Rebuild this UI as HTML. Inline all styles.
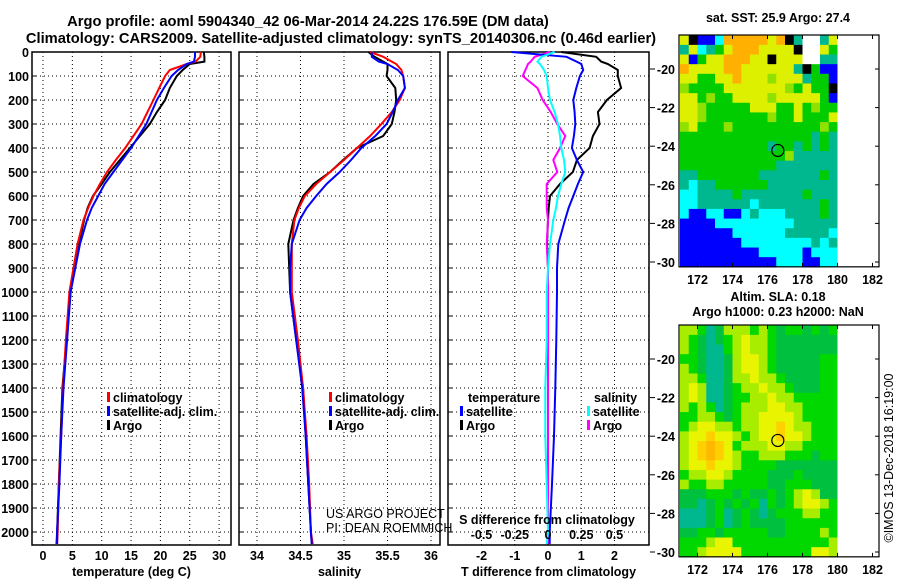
<!DOCTYPE html>
<html><head><meta charset="utf-8"><style>
html,body{margin:0;padding:0;background:#fff;width:900px;height:580px;overflow:hidden}
svg{display:block;font-family:"Liberation Sans",sans-serif}
.b{font-weight:bold;font-size:14.7px}
.t{font-weight:bold;font-size:12.5px}
</style></head><body>
<svg id="fig" width="900" height="580" viewBox="0 0 900 580">
<text class="b" x="308" y="26" text-anchor="middle">Argo profile: aoml 5904340_42 06-Mar-2014 24.22S 176.59E (DM data)</text>
<text class="b" x="341" y="43" text-anchor="middle">Climatology: CARS2009. Satellite-adjusted climatology: synTS_20140306.nc (0.46d earlier)</text>
<g id="g"></g>
</svg>
<script>
// depths (m)
const tDep=[0,20,40,50,75,100,150,200,250,300,350,400,450,500,550,600,650,700,800,900,1000,1200,1400,1600,1800,2000,2050];
const tempArgo=[27.4,27.5,27.5,25,23.8,22.8,21.6,20.8,19.4,18.2,16.5,14.8,13.1,11.4,10,8.5,7.6,7,6.1,5.4,4.7,4,3.3,3,2.7,2.4,2.3];
const tempClim=[26.9,26.8,26,24.5,21.6,20.8,19.8,18.8,17.8,16.8,15.4,14,12.4,10.9,9.7,8.6,7.7,6.9,5.9,5.2,4.5,3.9,3.4,3.1,2.7,2.5,2.4];
const tempSat=[25.9,25.9,25.7,24.5,23,21.9,20.6,19.4,18.5,17.6,16.3,15,13.5,12,10.5,9.4,8.3,7.5,6.3,5.5,4.7,4.1,3.5,3.1,2.8,2.4,2.4];
const salArgo=[35.28,35.35,35.45,35.5,35.5,35.49,35.59,35.6,35.58,35.55,35.45,35.15,34.99,34.84,34.65,34.53,34.47,34.42,34.36,34.37,34.38,34.45,34.53,34.56,34.59,34.62,34.63];
const salClim=[35.3,35.45,35.55,35.6,35.66,35.68,35.7,35.64,35.55,35.43,35.3,35.15,35.0,34.84,34.68,34.55,34.48,34.43,34.4,34.4,34.4,34.47,34.53,34.57,34.6,34.62,34.64];
const salSat=[35.32,35.32,35.4,35.5,35.62,35.68,35.7,35.62,35.56,35.49,35.36,35.2,35.08,34.95,34.8,34.68,34.57,34.49,34.4,34.38,34.38,34.45,34.52,34.56,34.59,34.62,34.63];
const dTArgo=[0.4,1.45,1.6,1.8,2.1,2.1,2.2,1.77,1.5,1.55,1.35,1.25,0.87,0.75,0.36,0.06,0.02,0,-0.03,0,0,0,0,0,0,0,0];
const dTSat=[-1.1,0.56,0.86,1.0,1.06,0.96,0.85,0.76,0.8,0.82,0.78,0.72,0.87,1.06,0.9,0.76,0.62,0.51,0.31,0.27,0.27,0.25,0.22,0.18,0.12,0.05,0.05];
const dSArgo=[0.015,-0.1,-0.13,-0.15,-0.17,-0.19,-0.08,-0.04,0.02,0.07,0.13,0.09,0.04,0.07,-0.01,-0.01,-0.01,0,-0.01,0,0,0,0,0,0,0,0];
const dSSat=[0.05,-0.05,-0.08,-0.06,-0.03,-0.01,0.0,0.015,0.05,0.075,0.09,0.1,0.12,0.13,0.1,0.075,0.06,0.04,0.015,0,-0.01,-0.01,-0.02,-0.02,-0.01,0,-0.01];
const depthTicks=[0,100,200,300,400,500,600,700,800,900,1000,1100,1200,1300,1400,1500,1600,1700,1800,1900,2000];
const tTicks=[0,5,10,15,20,25,30];
const sTicks=[34,34.5,35,35.5,36];
const dTTicks=[-2,-1,0,1,2];
const dSTicks=[-0.5,-0.25,0,0.25,0.5];
const lonTicks=[172,174,176,178,180,182];
const latTicks=[-20,-22,-24,-26,-28,-30];
// SST map codes, rows from -18.25 (0.5 deg), cols lon 171..180 (0.5 deg)
const sstRows=["ykbbcoooooyoktwwty","tyctgyoooyyyykwwyg","ybgyyoooyykyyywwtt","oyyyyooyyyyyytkgbb","yyggyyoyyylyyytggb","lggggyyyyyyylgyggk","yyglggyyyylyyyyygb","yylgggggyyyggyglgg","yylggggggglggygggy","lyggglgggggggggglg","gggggggggggggggtgt","ggggggggggtggtgtgt","gggggggggggglttttt","gggggggggggttttttt","ttgggggggtttttttgt","tcttggggggtttttttt","ccttttgtttttttgttt","ccttttttctttttttgt","cbbccbbctcccttttgt","bbbbcccccccccttttt","bbbbbbcccccctttttc","bbbbbbbcccccccctct","bbbbbbbbbcccccbccc","bbbbbbbbbbbcccbbcc"];
const slaRows=["llgtdlllglgdggdgdg","lgdtdglyllgddddddd","lgdttglyllgddddddd","ggdttdlyylgdddddgg","lgdttdlyylgdddddgg","llgttdllyllgddddgg","lylttdgllyllgdddgg","lylttdggllyllggggg","lglgtdglllyyllgggg","ggllgdgllyyyylgggg","glyyllgllyyoyllggg","lyyoyylglyyoyylggg","lyoOoyglllyyllgggg","lyoOoylgglllgggdgg","lyyoyylggggddddddd","gllyylggggdddgdddd","lggllgggggddgggddd","dddgggdgddgdglyldd","ddtdgdgdgtgdglyylg","tttdgtdgdtdgggllgg","tttdgtdgddddgggggg","ddggdgggggddgggglg","ggglyygggggggggggl","gglyyyyggggggggyyl"];
const argoLon=176.59, argoLat=-24.22;

const NS='http://www.w3.org/2000/svg';
const G=document.getElementById('g');
function mk(tag,at,txt,parent){const e=document.createElementNS(NS,tag);for(const k in at)e.setAttribute(k,at[k]);if(txt!==undefined)e.textContent=txt;(parent||G).appendChild(e);return e;}
const y0=52, ppm=0.24;
const yD=d=>y0+d*ppm;
const yBot=545;
const panels=[
 {x0:32,x1:231,f:v=>43+v*5.87,ticks:tTicks,label:'temperature (deg C)',name:'temperature'},
 {x0:239,x1:440,f:v=>257+(v-34)*87,ticks:sTicks,label:'salinity',name:'salinity'},
 {x0:448,x1:649,f:v=>548+v*33.25,ticks:dTTicks,label:'T difference from climatology',name:'difference'}
];
const fS=v=>548+v*133;
panels.forEach((p,pi)=>{
 const pg=mk('g',{});
 
 
 depthTicks.forEach(d=>{const l=mk('line',{x1:p.x0,x2:p.x1,y1:yD(d),y2:yD(d),stroke:'#000','stroke-dasharray':'1,3','stroke-width':1},undefined,pg);
  
  mk('line',{x1:p.x0,x2:p.x0+5,y1:yD(d),y2:yD(d),stroke:'#000'},undefined,pg);});
 p.ticks.forEach(v=>{const x=p.f(v);
  const l=mk('line',{x1:x,x2:x,y1:y0,y2:yBot,stroke:'#000','stroke-dasharray':'1,3'},undefined,pg);
  
  const t=mk('text',{x:x,y:yBot+15,'text-anchor':'middle',class:'t'},String(v),pg);
  });
 const r=mk('rect',{x:p.x0,y:y0,width:p.x1-p.x0,height:yBot-y0,fill:'none',stroke:'#000','stroke-width':1.5},undefined,pg);
 
 const xl=mk('text',{x:(p.x0+p.x1)/2,y:576,'text-anchor':'middle',class:'t'},p.label,pg);
 
});
depthTicks.forEach(d=>{const t=mk('text',{x:29,y:yD(d)+5,'text-anchor':'end',class:'t'},String(d));
 });
function line(vals,fx,color,name){
 const pts=vals.map((v,i)=>fx(v).toFixed(1)+','+yD(tDep[i]).toFixed(1)).join(' ');
 const e=mk('polyline',{points:pts,fill:'none',stroke:color,'stroke-width':2,'stroke-linejoin':'miter'});
 
 
}
line(tempArgo,panels[0].f,'#000','temp-argo-line');
line(tempClim,panels[0].f,'#ff0000','temp-climatology-line');
line(tempSat,panels[0].f,'#0000ff','temp-satellite-line');
line(salArgo,panels[1].f,'#000','sal-argo-line');
line(salClim,panels[1].f,'#ff0000','sal-climatology-line');
line(salSat,panels[1].f,'#0000ff','sal-satellite-line');
line(dTArgo,panels[2].f,'#000','tdiff-argo-line');
line(dSArgo,fS,'#ff00ff','sdiff-argo-line');
line(dTSat,panels[2].f,'#0000ff','tdiff-satellite-line');
line(dSSat,fS,'#00ffff','sdiff-satellite-line');
dSTicks.forEach(v=>{const t=mk('text',{x:fS(v),y:539,'text-anchor':'middle',class:'t'},String(v));
 });
const st=mk('text',{x:547,y:524,'text-anchor':'middle',class:'t'},'S difference from climatology');

function leg(x,y,color,txt,name){const g=mk('g',{});
 
 mk('rect',{x:x,y:y-10,width:3,height:10,fill:color},undefined,g);
 mk('text',{x:x+6,y:y,class:'t'},txt,g);}
leg(107,402,'#ff0000','climatology','legend-climatology');
leg(107,416,'#0000ff','satellite-adj. clim.','legend-satellite');
leg(107,430,'#000','Argo','legend-argo');
leg(329,402,'#ff0000','climatology','legend-climatology-sal');
leg(329,416,'#0000ff','satellite-adj. clim.','legend-satellite-sal');
leg(329,430,'#000','Argo','legend-argo-sal');
let tx=mk('text',{x:468,y:402,class:'t'},'temperature');
tx=mk('text',{x:594,y:402,class:'t'},'salinity');
leg(460,416,'#0000ff','satellite','legend-t-satellite');
leg(460,430,'#000','Argo','legend-t-argo');
leg(587,416,'#00ffff','satellite','legend-s-satellite');
leg(587,430,'#ff00ff','Argo','legend-s-argo');
tx=mk('text',{x:326,y:518,'font-size':'12.5px'},'US ARGO PROJECT');
tx=mk('text',{x:326,y:532,'font-size':'12.5px'},'PI: DEAN ROEMMICH');

// maps
const cols={k:'#000',w:'#fff',b:'#0000ff',c:'#00ffff',t:'#00b890',g:'#00cc00',l:'#90e000',y:'#dcf000',o:'#ffb000',d:'#00c050',O:'#ffb800'};
const slaCols=Object.assign({},cols,{g:'#00d800',l:'#a8ec00',y:'#e8f400',o:'#ffd000',d:'#00c040',t:'#00b890'});
const lonX=lon=>680+(lon-171)*17.5;
function map(top,rows,pal,name,title1,title2){
 const mg=mk('g',{});
 
 const latY=lat=>top+34+(-20-lat)*19.3;
 const bot=latY(-30.25);
 rows.forEach((r,i)=>{for(let j=0;j<r.length;j++){
  const la=-18.25-0.5*i, lo=171+0.5*j;
  const c=mk('rect',{x:lonX(lo).toFixed(2),y:latY(la).toFixed(2),width:9.3,height:10.2,fill:pal[r[j]]},undefined,mg);
  }});
 mk('rect',{x:lonX(180),y:top,width:879-lonX(180),height:bot-top,fill:'#fff'},undefined,mg);
 mk('rect',{x:679,y:top,width:200,height:bot-top,fill:'none',stroke:'#000','stroke-width':1.2},undefined,mg);
 lonTicks.forEach(lo=>{const x=lonX(lo);mk('line',{x1:x,x2:x,y1:top,y2:top+4,stroke:'#000'},undefined,mg);mk('line',{x1:x,x2:x,y1:bot,y2:bot-4,stroke:'#000'},undefined,mg);
  const t=mk('text',{x:x,y:bot+17,'text-anchor':'middle',class:'t','font-size':'13px'},String(lo),mg);});
 latTicks.forEach(la=>{const y=latY(la);mk('line',{x1:879,x2:875,y1:y,y2:y,stroke:'#000'},undefined,mg);mk('line',{x1:650,x2:655,y1:y,y2:y,stroke:'#000'},undefined,mg);
  const t=mk('text',{x:675,y:y+5,'text-anchor':'end',class:'t'},String(la),mg);});
 const m=mk('circle',{cx:lonX(argoLon),cy:latY(argoLat),r:6,fill:'none',stroke:'#000','stroke-width':1.2},undefined,mg);
 
 const t1=mk('text',{x:778,y:title2?top-24:top-13,'text-anchor':'middle',class:'t'},title1,mg);
 if(title2){const t2=mk('text',{x:778,y:top-9,'text-anchor':'middle',class:'t'},title2,mg);}
}
map(35,sstRows,cols,'sst-map','sat. SST: 25.9 Argo: 27.4');
map(325,slaRows,slaCols,'sla-map','Altim. SLA: 0.18','Argo h1000: 0.23 h2000: NaN');
tx=mk('text',{x:893,y:458,'text-anchor':'middle','font-size':'12.5px',transform:'rotate(-90 893 458)'},'©IMOS 13-Dec-2018 16:19:00');

</script>
</body></html>
